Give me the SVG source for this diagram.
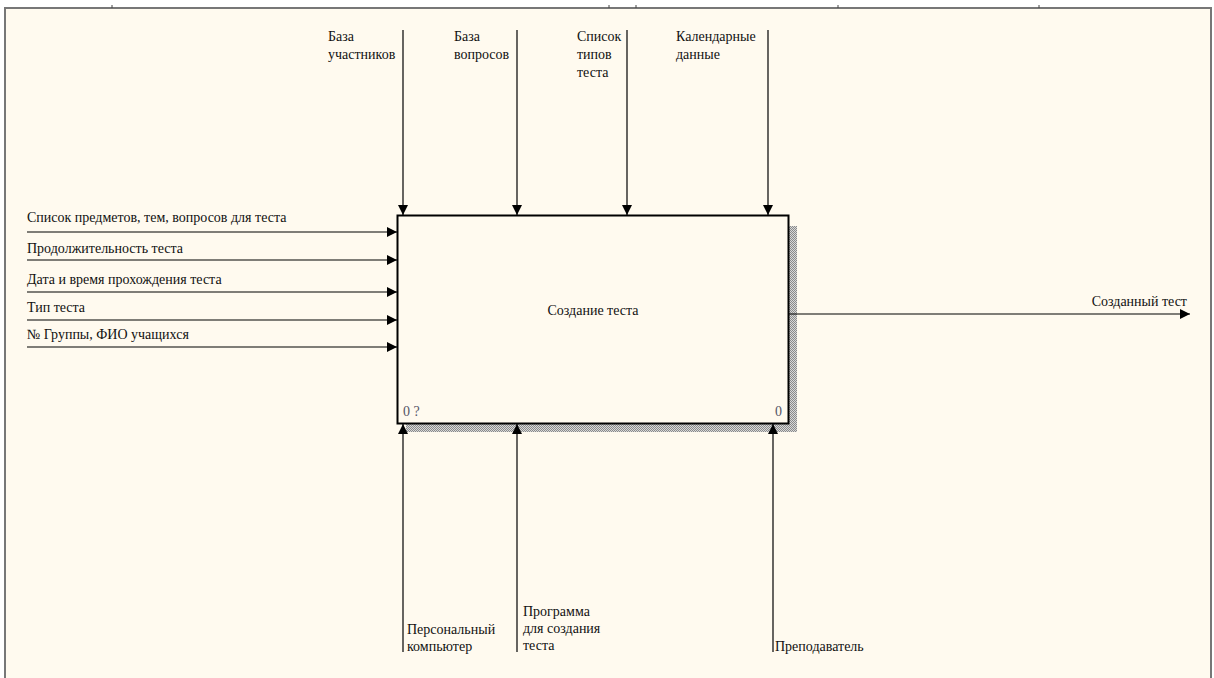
<svg xmlns="http://www.w3.org/2000/svg" width="1214" height="678" viewBox="0 0 1214 678">
<defs>
<pattern id="hatch" width="2" height="2" patternUnits="userSpaceOnUse">
<rect width="2" height="2" fill="#d8d8d8"/>
<rect width="1" height="1" fill="#8a8a8a"/>
<rect x="1" y="1" width="1" height="1" fill="#8a8a8a"/>
</pattern>
<marker id="arr" viewBox="0 0 10 10" refX="10" refY="5" markerWidth="10" markerHeight="10" markerUnits="userSpaceOnUse" orient="auto">
<path d="M0,0 L10,5 L0,10 Z" fill="#000"/>
</marker>
</defs>
<style>
text{font-family:'Liberation Serif','Times New Roman',serif;font-size:14px;fill:#111}
.c{stroke:#000;stroke-width:1.2;fill:none;marker-end:url(#arr)}
</style>
<rect x="0" y="0" width="1214" height="678" fill="#ffffff"/>
<rect x="5" y="8" width="1206" height="690" fill="#fffaef" stroke="#777" stroke-width="2"/>
<g stroke="#444" stroke-width="1">
<line x1="112" y1="5" x2="112" y2="8"/>
<line x1="609" y1="5" x2="609" y2="8"/>
<line x1="636" y1="5" x2="636" y2="8"/>
<line x1="838" y1="5" x2="838" y2="8"/>
<line x1="1039" y1="5" x2="1039" y2="8"/>
</g>
<g id="node-create" font-family="Liberation Serif, serif">
<rect x="406" y="226" width="391" height="206" fill="url(#hatch)"/>
<rect x="397.5" y="215.5" width="391" height="208" fill="#fffaef" stroke="#000" stroke-width="2"/>
<text x="593" y="315" text-anchor="middle">Создание теста</text>
<text x="403" y="416" style="fill:#556">0 ?</text>
<text x="775" y="416" style="fill:#556">0</text>
</g>
<g id="connectors">
<line class="c" x1="403" y1="30" x2="403" y2="215"/>
<line class="c" x1="517" y1="30" x2="517" y2="215"/>
<line class="c" x1="627" y1="30" x2="627" y2="215"/>
<line class="c" x1="768" y1="30" x2="768" y2="215"/>
<line class="c" x1="27" y1="232" x2="397" y2="232"/>
<line class="c" x1="27" y1="260" x2="397" y2="260"/>
<line class="c" x1="27" y1="292" x2="397" y2="292"/>
<line class="c" x1="27" y1="320" x2="397" y2="320"/>
<line class="c" x1="27" y1="347" x2="397" y2="347"/>
<line class="c" x1="789" y1="314" x2="1190" y2="314"/>
<line class="c" x1="403" y1="652" x2="403" y2="424"/>
<line class="c" x1="517" y1="652" x2="517" y2="424"/>
<line class="c" x1="773" y1="652" x2="773" y2="424"/>
</g>
<g id="labels" font-family="Liberation Serif, serif">
<text x="328" y="41">База</text>
<text x="328" y="59">участников</text>
<text x="454" y="41">База</text>
<text x="454" y="59">вопросов</text>
<text x="577" y="41">Список</text>
<text x="577" y="59">типов</text>
<text x="577" y="77">теста</text>
<text x="676" y="41">Календарные</text>
<text x="676" y="59">данные</text>
<text x="27" y="222">Список предметов, тем, вопросов для теста</text>
<text x="27" y="253">Продолжительность теста</text>
<text x="27" y="284">Дата и время прохождения теста</text>
<text x="27" y="312">Тип теста</text>
<text x="27" y="339">№ Группы, ФИО учащихся</text>
<text x="1187" y="306" text-anchor="end">Созданный тест</text>
<text x="407" y="634">Персональный</text>
<text x="407" y="651">компьютер</text>
<text x="523" y="616">Программа</text>
<text x="523" y="633">для создания</text>
<text x="523" y="650">теста</text>
<text x="775" y="651">Преподаватель</text>
</g>
</svg>
